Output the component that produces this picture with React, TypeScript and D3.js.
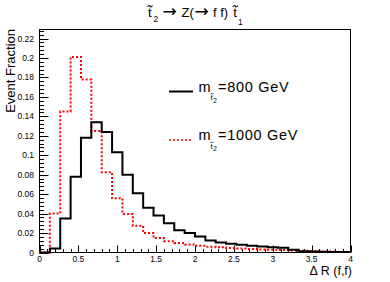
import React, { useEffect, useRef } from 'react';
import * as d3 from 'd3';

// histogram binning of ΔR(f,f)
const binLow = 0;
const binHigh = 4;
const binCount = 30;

// event fraction per bin, m(t2) = 800 GeV
const fraction800 = [
  0, 0.004, 0.035, 0.078, 0.118, 0.134, 0.124, 0.103, 0.08, 0.061,
  0.046, 0.038, 0.03, 0.023, 0.02, 0.0165, 0.0124, 0.0103, 0.009, 0.008,
  0.0069, 0.0062, 0.0055, 0.0048, 0.0028, 0.0012, 0.001, 0.0008, 0.0006, 0.0004,
];

// event fraction per bin, m(t2) = 1000 GeV
const fraction1000 = [
  0, 0.04, 0.145, 0.201, 0.178, 0.125, 0.0825, 0.0557, 0.0396, 0.0275,
  0.02, 0.0148, 0.0115, 0.0097, 0.0083, 0.0069, 0.006, 0.0055, 0.0045, 0.004,
  0.0035, 0.003, 0.0028, 0.0025, 0.002, 0.0017, 0.0014, 0.0011, 0.0008, 0.0006,
];

const xTicks = [0, 0.5, 1, 1.5, 2, 2.5, 3, 3.5, 4];
const yTicks = [0, 0.02, 0.04, 0.06, 0.08, 0.1, 0.12, 0.14, 0.16, 0.18, 0.2, 0.22];
const legendLabels = ['=800 GeV', '=1000 GeV'];

const W = 390;
const H = 282;
const frame = { left: 39.5, right: 350.5, top: 29.5, bottom: 252.5 };
const yMax = 0.2293;
const font = '"Liberation Sans", Arial, Helvetica, sans-serif';
const arrowFont = '"DejaVu Sans", sans-serif';

// small tilde accent drawn as a path, centred at (cx, cy)
const tildePath = (cx: number, cy: number, w: number) => {
  const p = d3.path();
  const h = w * 0.3;
  p.moveTo(cx - w / 2, cy + h / 2);
  p.bezierCurveTo(cx - w / 4, cy - h, cx, cy - h / 2, cx, cy);
  p.bezierCurveTo(cx, cy + h / 2, cx + w / 4, cy + h, cx + w / 2, cy - h / 2);
  return p.toString();
};

const drawChart = (node: SVGSVGElement) => {
  const svg = d3.select(node);
  svg.selectAll('*').remove();

  const x = d3.scaleLinear().domain([binLow, binHigh]).range([frame.left, frame.right]);
  const y = d3.scaleLinear().domain([0, yMax]).range([frame.bottom, frame.top]);
  const binWidth = (binHigh - binLow) / binCount;

  svg.append('rect').attr('width', W).attr('height', H).attr('fill', '#fff');

  // frame
  svg
    .append('rect')
    .attr('x', frame.left)
    .attr('y', frame.top)
    .attr('width', frame.right - frame.left)
    .attr('height', frame.bottom - frame.top)
    .attr('fill', 'none')
    .attr('stroke', '#000')
    .attr('stroke-width', 1);

  // y ticks
  const yMinor = d3.range(0, yMax, 0.004).filter((v) => Math.abs(v / 0.02 - Math.round(v / 0.02)) > 1e-6);
  const yAxis = svg.append('g').attr('stroke', '#000').attr('stroke-width', 1);
  yAxis
    .selectAll('line.major')
    .data(yTicks)
    .join('line')
    .attr('x1', frame.left)
    .attr('x2', frame.left + 9)
    .attr('y1', (d) => Math.round(y(d)) + 0.5)
    .attr('y2', (d) => Math.round(y(d)) + 0.5);
  yAxis
    .selectAll('line.minor')
    .data(yMinor)
    .join('line')
    .attr('x1', frame.left)
    .attr('x2', frame.left + 4.5)
    .attr('y1', (d) => Math.round(y(d)) + 0.5)
    .attr('y2', (d) => Math.round(y(d)) + 0.5);
  svg
    .append('g')
    .selectAll('text')
    .data(yTicks)
    .join('text')
    .attr('x', 34)
    .attr('y', (d) => y(d) + 3)
    .attr('text-anchor', 'end')
    .attr('font-family', font)
    .attr('font-size', 8.5)
    .text((d) => String(d));

  // x ticks
  const xMinor = d3.range(0, binHigh, 0.1).filter((v) => Math.abs(v / 0.5 - Math.round(v / 0.5)) > 1e-6);
  const xAxis = svg.append('g').attr('stroke', '#000').attr('stroke-width', 1);
  xAxis
    .selectAll('line.major')
    .data(xTicks)
    .join('line')
    .attr('x1', (d) => Math.round(x(d)) + 0.5)
    .attr('x2', (d) => Math.round(x(d)) + 0.5)
    .attr('y1', frame.bottom)
    .attr('y2', frame.bottom - 7);
  xAxis
    .selectAll('line.minor')
    .data(xMinor)
    .join('line')
    .attr('x1', (d) => Math.round(x(d)) + 0.5)
    .attr('x2', (d) => Math.round(x(d)) + 0.5)
    .attr('y1', frame.bottom)
    .attr('y2', frame.bottom - 3.5);
  svg
    .append('g')
    .selectAll('text')
    .data(xTicks)
    .join('text')
    .attr('x', (d) => x(d))
    .attr('y', 262)
    .attr('text-anchor', 'middle')
    .attr('font-family', font)
    .attr('font-size', 8.5)
    .text((d) => String(d));

  // histograms
  const stepLine = d3
    .line<[number, number]>()
    .x((d) => x(d[0]))
    .y((d) => y(d[1]))
    .curve(d3.curveStepAfter);
  const toPoints = (vals: number[]): [number, number][] => {
    const pts: [number, number][] = vals.map((v, i) => [binLow + i * binWidth, v]);
    pts.push([binHigh, vals[vals.length - 1]]);
    return pts;
  };

  svg
    .append('path')
    .attr('d', stepLine(toPoints(fraction1000)))
    .attr('fill', 'none')
    .attr('stroke', '#ff0000')
    .attr('stroke-width', 2)
    .attr('stroke-dasharray', '2,2');
  svg
    .append('path')
    .attr('d', stepLine(toPoints(fraction800)))
    .attr('fill', 'none')
    .attr('stroke', '#000')
    .attr('stroke-width', 2);

  // axis titles
  svg
    .append('text')
    .attr('transform', 'translate(15,29) rotate(-90)')
    .attr('text-anchor', 'end')
    .attr('font-family', font)
    .attr('font-size', 13)
    .text('Event Fraction');
  svg
    .append('text')
    .attr('x', 352)
    .attr('y', 275)
    .attr('text-anchor', 'end')
    .attr('font-family', font)
    .attr('font-size', 12.5)
    .text('Δ R (f,f)');

  // title: one text element built of positioned pieces
  const title = svg.append('text').attr('font-family', font).attr('font-size', 13);
  const piece = (t: string, px: number, py: number, size: number, family = font) =>
    title.append('tspan').attr('x', px).attr('y', py).attr('font-size', size).attr('font-family', family).text(t);
  piece('t', 148, 17.3, 13);
  piece('2', 153.5, 21.5, 8.5);
  piece('→', 162.5, 17.3, 17, arrowFont);
  piece('Z(', 181.5, 17.3, 13);
  piece('→', 194.5, 17.3, 17, arrowFont);
  piece('f f)', 213, 17.3, 13);
  piece('t', 233.3, 17.3, 13);
  piece('1', 238, 25, 8.5);

  const accents = svg.append('g').attr('fill', 'none').attr('stroke', '#000').attr('stroke-width', 1.1);
  accents.append('path').attr('d', tildePath(150, 6.3, 5));
  accents.append('path').attr('d', tildePath(235.3, 6.3, 5));

  // legend
  const legend = svg.append('g').attr('font-family', font);
  const entries = [
    { label: legendLabels[0], yPos: 91.5, color: '#000', dash: null, width: 2 },
    { label: legendLabels[1], yPos: 140, color: '#ff0000', dash: '2,2', width: 1.5 },
  ];
  entries.forEach((e) => {
    legend
      .append('line')
      .attr('x1', 169)
      .attr('x2', 193)
      .attr('y1', e.yPos)
      .attr('y2', e.yPos)
      .attr('stroke', e.color)
      .attr('stroke-width', e.width)
      .attr('stroke-dasharray', e.dash);
    const txt = legend.append('text').attr('font-size', 14.5);
    txt.append('tspan').attr('x', 198.5).attr('y', e.yPos).text('m');
    txt.append('tspan').attr('x', 210.5).attr('y', e.yPos + 8.5).attr('font-size', 8).text('t');
    txt.append('tspan').attr('x', 213.3).attr('y', e.yPos + 11).attr('font-size', 6.5).text('2');
    txt
      .append('tspan')
      .attr('x', 218)
      .attr('y', e.yPos)
      .attr('letter-spacing', 0.7)
      .text(e.label);
    legend
      .append('path')
      .attr('d', tildePath(212, e.yPos + 2.3, 3))
      .attr('fill', 'none')
      .attr('stroke', '#000')
      .attr('stroke-width', 0.7);
  });
};

const App: React.FC = () => {
  const ref = useRef<SVGSVGElement>(null);

  useEffect(() => {
    if (ref.current) drawChart(ref.current);
  }, []);

  return (
    <svg
      ref={ref}
      width={W}
      height={H}
      style={{ position: 'absolute', left: 0, top: 0, display: 'block' }}
    />
  );
};

export default App;
